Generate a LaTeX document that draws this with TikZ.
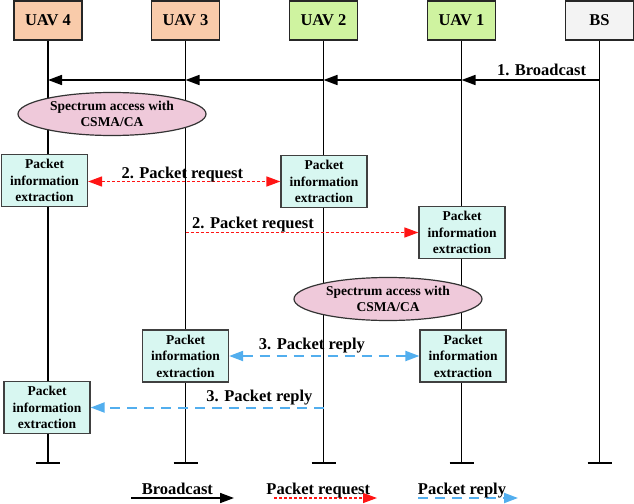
\documentclass[tikz,border=0pt]{standalone}
\usepackage{fontspec}
\setmainfont{Liberation Serif}
\usetikzlibrary{arrows.meta,shapes.geometric}
\definecolor{peach}{HTML}{F9CBAA}
\definecolor{lgreen}{HTML}{CFF3A0}
\definecolor{lgray}{HTML}{F3F3F3}
\definecolor{lcyan}{HTML}{D8F7F1}
\definecolor{lpink}{HTML}{EFC9DA}
\definecolor{rred}{HTML}{FF1414}
\definecolor{rblue}{HTML}{52AEEE}
\begin{document}
\begin{tikzpicture}[x=1pt,y=-1pt,
  hdr/.style={draw=black!85,line width=1.3pt,minimum width=68pt,minimum height=39pt,inner sep=0pt,font=\fontsize{16.5}{18}\selectfont\bfseries},
  pbox/.style={draw=black!75,line width=1.2pt,fill=lcyan,minimum width=86pt,minimum height=52pt,inner sep=1pt,align=center,font=\fontsize{13.5}{16.5}\selectfont\bfseries},
  spec/.style={ellipse,draw=black!80,line width=1.2pt,fill=lpink,minimum width=188pt,minimum height=43pt,inner sep=0pt,align=center,font=\fontsize{13.5}{16}\selectfont\bfseries},
  life/.style={line width=1.4pt},
  tip/.style={Triangle[length=14pt,width=10pt]},
  bc/.style={line width=1.6pt,-{Triangle[length=14pt,width=10pt]}},
  req/.style={rred,line width=1.4pt,dash pattern=on 3pt off 2pt},
  rep/.style={rblue,line width=2pt,dash pattern=on 10pt off 7pt},
  lbl/.style={font=\fontsize{16.5}{18}\selectfont\bfseries,inner sep=0pt,text=black}
]
\useasboundingbox (0,0) rectangle (634,503);
% headers
\node[hdr,fill=peach] (h4) at (48,20.5) {UAV 4};
\node[hdr,fill=peach] (h3) at (185.5,20.5) {UAV 3};
\node[hdr,fill=lgreen] (h2) at (323.5,20.5) {UAV 2};
\node[hdr,fill=lgreen] (h1) at (461.5,20.5) {UAV 1};
\node[hdr,fill=lgray] (hb) at (599.5,20.5) {BS};
% lifelines
\coordinate (bot) at (0,463);
\foreach \n in {h4,h3,h2,h1,hb}{
  \coordinate (e\n) at (\n |- bot);
  \draw[life] (\n.south) -- (e\n);
  \draw[life] ([xshift=-12pt]e\n) -- ([xshift=12pt]e\n);
}
% broadcast
\coordinate (bcy) at (0,80);
\coordinate (bB) at (hb |- bcy);
\coordinate (b1) at (h1 |- bcy);
\coordinate (b2) at (h2 |- bcy);
\coordinate (b3) at (h3 |- bcy);
\coordinate (b4) at (h4 |- bcy);
\draw[bc] (bB) -- node[lbl,pos=0.42,anchor=base,yshift=4.5pt]{1. Broadcast} (b1);
\draw[bc] (b1) -- (b2);
\draw[bc] (b2) -- (b3);
\draw[bc] (b3) -- (b4);
% ellipses
\node[spec] (s1) at (112,114) {Spectrum access with\\CSMA/CA};
\node[spec] (s2) at (388,299) {Spectrum access with\\CSMA/CA};
% packet boxes
\node[pbox] (p4a) at (44.5,180.5) {Packet\\information\\extraction};
\node[pbox] (p2a) at (324,181.5) {Packet\\information\\extraction};
\node[pbox] (p1a) at (462,232.5) {Packet\\information\\extraction};
\node[pbox] (p3b) at (185.5,356) {Packet\\information\\extraction};
\node[pbox] (p1b) at (463,356) {Packet\\information\\extraction};
\node[pbox] (p4b) at (47,407.5) {Packet\\information\\extraction};
% requests
\draw[req,{Triangle[length=14pt,width=10pt]}-{Triangle[length=14pt,width=10pt]}] (p4a.east |- p2a.west) -- node[lbl,pos=0.49,anchor=base,yshift=3.5pt]{2. Packet request} (p2a.west);
\draw[req,-{Triangle[length=14pt,width=10pt]}] (h3 |- p1a.west) -- node[lbl,pos=0.29,anchor=base,yshift=4pt]{2. Packet request} (p1a.west);
% replies
\draw[rep,{Triangle[length=14pt,width=10pt]}-{Triangle[length=14pt,width=10pt]}] (p3b.east) -- node[lbl,pos=0.435,anchor=base,yshift=6.5pt]{3. Packet reply} (p1b.west);
\draw[rep,-{Triangle[length=14pt,width=10pt]}] (h2 |- p4b.east) -- node[lbl,pos=0.275,anchor=base,yshift=6pt]{3. Packet reply} (p4b.east);
% legend
\coordinate (l1s) at (131,498); \coordinate (l1e) at (234,498);
\coordinate (l2s) at (274,498); \coordinate (l2e) at (377,498);
\coordinate (l3s) at (418,498); \coordinate (l3e) at (518,498);
\draw[line width=1.6pt,-{Triangle[length=14pt,width=10pt]}] (l1s) -- node[lbl,pos=0.45,anchor=base,yshift=4pt]{Broadcast} (l1e);
\draw[req,-{Triangle[length=14pt,width=10pt]}] (l2s) -- node[lbl,pos=0.43,anchor=base,yshift=4pt]{Packet request} (l2e);
\draw[rep,-{Triangle[length=14pt,width=10pt]}] (l3s) -- node[lbl,pos=0.44,anchor=base,yshift=4pt]{Packet reply} (l3e);
\end{tikzpicture}
\end{document}
